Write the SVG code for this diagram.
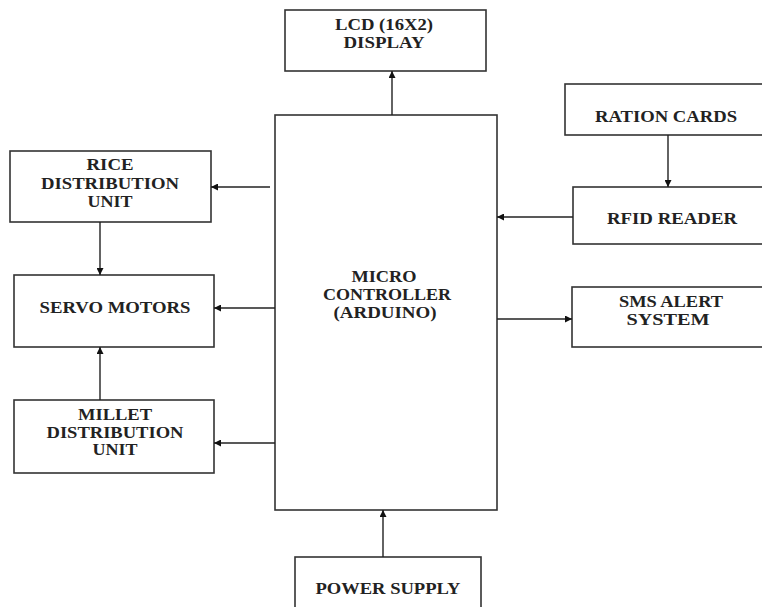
<svg xmlns="http://www.w3.org/2000/svg" width="762" height="607" viewBox="0 0 762 607">
<style>
.box{fill:#fff;stroke:#333;stroke-width:1.6}
.t{font-family:"Liberation Serif","Times New Roman",serif;font-weight:bold;font-size:16px;fill:#222;text-anchor:middle}
.c{stroke:#222;stroke-width:1.4;fill:none;marker-end:url(#ah)}
</style>
<defs>
<marker id="ah" viewBox="0 0 10 10" refX="10" refY="5" markerWidth="7" markerHeight="7" markerUnits="userSpaceOnUse" orient="auto">
<path d="M0,0 L10,5 L0,10 z" fill="#111"/>
</marker>
</defs>
<rect width="762" height="607" fill="#fff"/>
<g id="lcd"><rect class="box" x="285" y="10" width="201" height="61"/>
<text class="t" x="384" y="30" textLength="98" lengthAdjust="spacingAndGlyphs">LCD (16X2)</text>
<text class="t" x="384" y="48" textLength="81" lengthAdjust="spacingAndGlyphs">DISPLAY</text></g>
<g id="micro"><rect class="box" x="275" y="115" width="222" height="395"/>
<text class="t" x="384" y="282" textLength="65" lengthAdjust="spacingAndGlyphs">MICRO</text>
<text class="t" x="387" y="300" textLength="128" lengthAdjust="spacingAndGlyphs">CONTROLLER</text>
<text class="t" x="385" y="318" textLength="103" lengthAdjust="spacingAndGlyphs">(ARDUINO)</text></g>
<g id="rice"><rect class="box" x="10" y="151" width="201" height="71"/>
<text class="t" x="110" y="170" textLength="47" lengthAdjust="spacingAndGlyphs">RICE</text>
<text class="t" x="110" y="188.5" textLength="138" lengthAdjust="spacingAndGlyphs">DISTRIBUTION</text>
<text class="t" x="110" y="207" textLength="45" lengthAdjust="spacingAndGlyphs">UNIT</text></g>
<g id="servo"><rect class="box" x="14" y="275" width="200" height="72"/>
<text class="t" x="115" y="313" textLength="151" lengthAdjust="spacingAndGlyphs">SERVO MOTORS</text></g>
<g id="millet"><rect class="box" x="14" y="400" width="200" height="73"/>
<text class="t" x="115" y="420" textLength="74" lengthAdjust="spacingAndGlyphs">MILLET</text>
<text class="t" x="115" y="438" textLength="137" lengthAdjust="spacingAndGlyphs">DISTRIBUTION</text>
<text class="t" x="115" y="455" textLength="45" lengthAdjust="spacingAndGlyphs">UNIT</text></g>
<g id="ration"><rect class="box" x="565" y="84" width="210" height="51"/>
<text class="t" x="666" y="122" textLength="142" lengthAdjust="spacingAndGlyphs">RATION CARDS</text></g>
<g id="rfid"><rect class="box" x="573" y="187" width="202" height="57"/>
<text class="t" x="672" y="224" textLength="130" lengthAdjust="spacingAndGlyphs">RFID READER</text></g>
<g id="sms"><rect class="box" x="572" y="287" width="203" height="60"/>
<text class="t" x="671" y="307" textLength="104" lengthAdjust="spacingAndGlyphs">SMS ALERT</text>
<text class="t" x="668" y="325" textLength="83" lengthAdjust="spacingAndGlyphs">SYSTEM</text></g>
<g id="power"><rect class="box" x="295" y="557" width="186" height="70"/>
<text class="t" x="388" y="594" textLength="145" lengthAdjust="spacingAndGlyphs">POWER SUPPLY</text></g>
<g id="connectors">
<line class="c" x1="392" y1="115" x2="392" y2="71"/>
<line class="c" x1="270" y1="187" x2="211" y2="187"/>
<line class="c" x1="275" y1="308" x2="214" y2="308"/>
<line class="c" x1="275" y1="443" x2="214" y2="443"/>
<line class="c" x1="100" y1="222" x2="100" y2="275"/>
<line class="c" x1="100" y1="400" x2="100" y2="347"/>
<line class="c" x1="668" y1="135" x2="668" y2="187"/>
<line class="c" x1="573" y1="217" x2="497" y2="217"/>
<line class="c" x1="497" y1="319" x2="572" y2="319"/>
<line class="c" x1="383" y1="557" x2="383" y2="510"/>
</g>
</svg>
